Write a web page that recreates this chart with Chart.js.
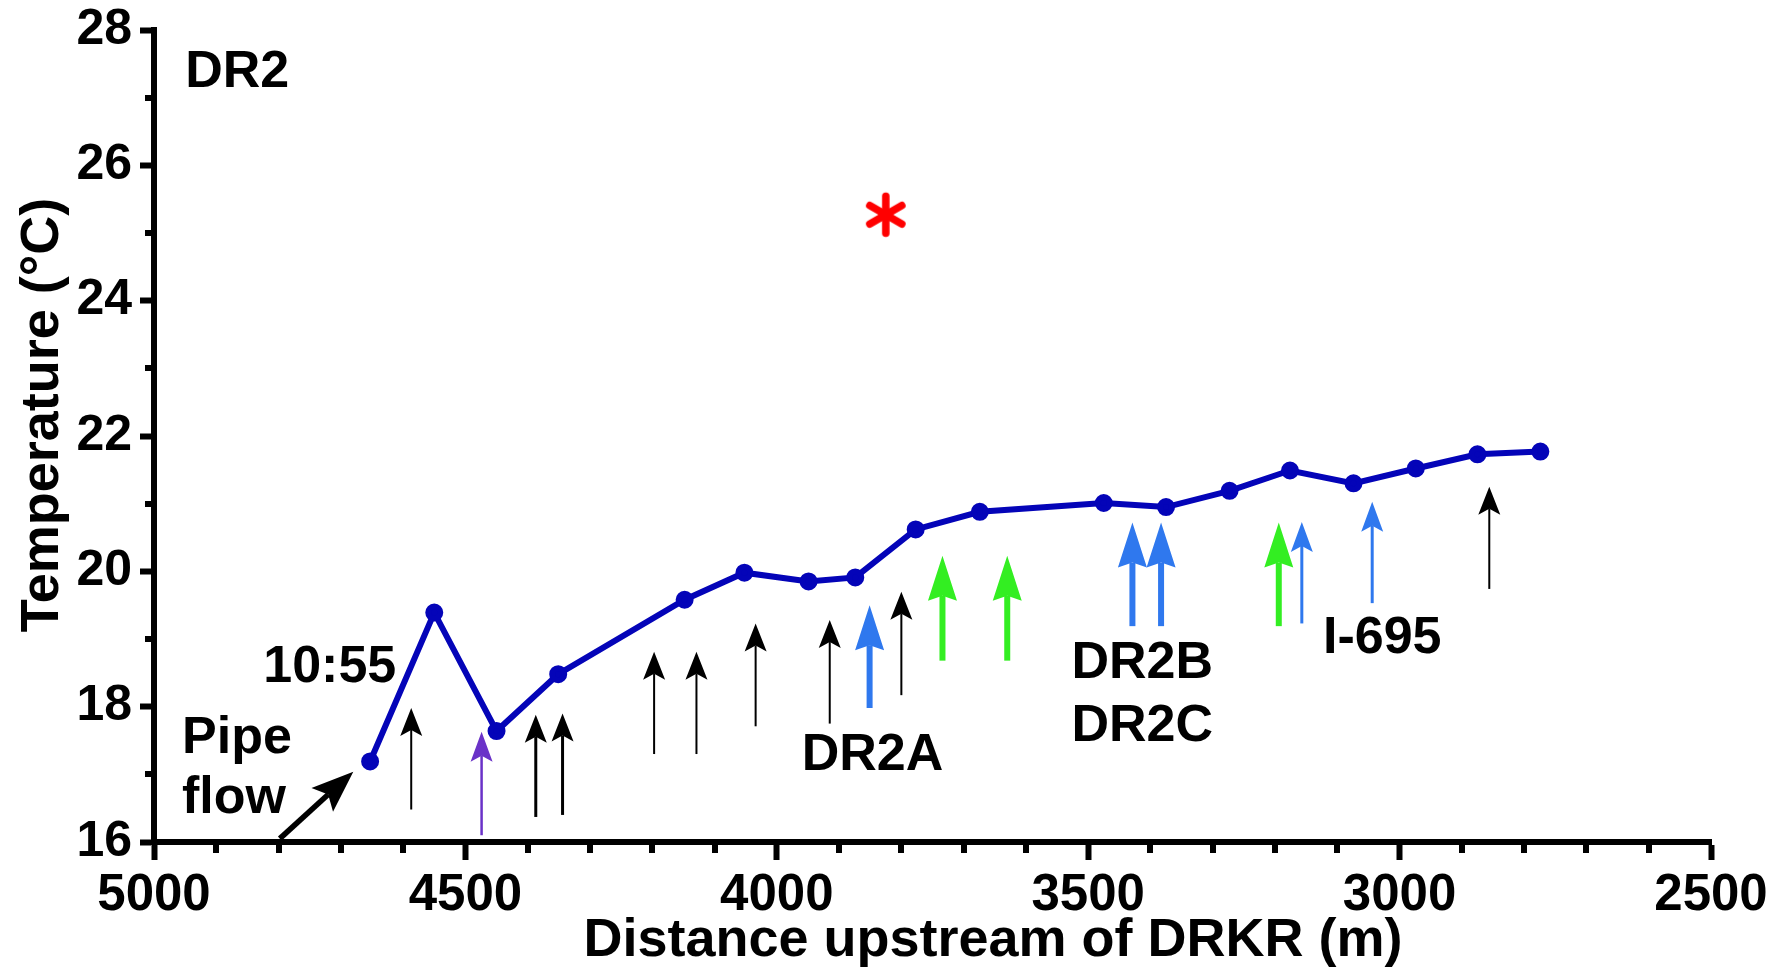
<!DOCTYPE html>
<html><head><meta charset="utf-8">
<script src="https://cdn.jsdelivr.net/npm/chart.js@4.4.1/dist/chart.umd.min.js"></script>
<style>html,body{margin:0;padding:0;background:#fff;overflow:hidden}#wrap{width:1782px;height:971px}</style>
</head><body><div id="wrap"><canvas id="c" width="1782" height="971"></canvas></div>
<script>
// ---- data ----
const distances    = [4653,4550,4450,4351,4148,4052,3949,3874,3777,3674,3475,3375,3273,3176,3074,2974,2875,2774];
const temperatures = [17.19,19.39,17.64,18.48,19.58,19.98,19.85,19.91,20.62,20.88,21.01,20.95,21.19,21.49,21.30,21.52,21.73,21.77];
const xTickLabels = [5000,4500,4000,3500,3000,2500];
const yTickLabels = [16,18,20,22,24,26,28];
const starDistance = [3825];
const starTemp = [25.27];
const arrowDistance = [4587,4474,4387,4344,4197,4129,4034,3915,3851,3800,3734,3630,3429,3383,3194,3157,3044,2856];
const arrowTipTemp  = [17.98,17.63,17.88,17.90,18.81,18.81,19.23,19.28,19.50,19.70,20.23,20.23,20.72,20.72,20.72,20.73,21.03,21.25];
const arrowTailTemp = [16.48,16.10,16.37,16.40,17.30,17.30,17.71,17.75,17.98,18.17,18.68,18.68,19.19,19.19,19.19,19.23,19.53,19.74];
const arrowKind = ['black','purple','blackMid','blackMid','black','black','black','black','blueThick','black','green','green','blueThick','blueThick','green','blueThin','blueThin','black'];
const pipeArrowDistance = [4798,4680];
const pipeArrowTemp = [16.05,17.04];
const noteTexts = ['DR2','10:55','Pipe','flow','DR2A','DR2B','DR2C','I-695'];
const noteDistance = [4950,4611,4955,4955,3960,3527,3527,3123];
const noteTemp = [27.16,18.36,17.32,16.43,17.06,18.42,17.49,18.79];
const noteAlign = ['left','right','left','left','left','left','left','left'];
const xTitle = 'Distance upstream of DRKR (m)';
const yTitle = 'Temperature (°C)';

// ---- styles ----
const FONT = "'Liberation Sans', Arial, Helvetica, sans-serif";
const arrowStyles = {
  black:    {color:'#000000', shaft:2,   headW:22, headL:28, notch:6},
  blackMid: {color:'#000000', shaft:3,   headW:22, headL:28, notch:6},
  purple:   {color:'#6A32C8', shaft:2.5, headW:22, headL:30, notch:6},
  blueThick:{color:'#2F78EE', shaft:6,   headW:29, headL:45, notch:5},
  green:    {color:'#33EE22', shaft:6,   headW:29, headL:45, notch:5},
  blueThin: {color:'#2F78EE', shaft:3,   headW:22, headL:30, notch:6},
  pipe:     {color:'#000000', shaft:5.5, headW:32, headL:42, notch:8}
};

function makeStar(){
  const c = document.createElement('canvas'); c.width = 48; c.height = 48;
  const g = c.getContext('2d');
  g.translate(24,24); g.strokeStyle = '#FF0000'; g.lineWidth = 7.5; g.lineCap = 'round';
  for (const a of [90, 30, -30]) {
    const r = a * Math.PI/180, L = 18.5;
    g.beginPath(); g.moveTo(-L*Math.cos(r), -L*Math.sin(r)); g.lineTo(L*Math.cos(r), L*Math.sin(r)); g.stroke();
  }
  return c;
}

function drawArrow(ctx, x1, y1, x2, y2, st){
  const ang = Math.atan2(y2-y1, x2-x1), len = Math.hypot(x2-x1, y2-y1);
  ctx.save(); ctx.translate(x2, y2); ctx.rotate(ang);
  ctx.fillStyle = st.color; ctx.strokeStyle = st.color; ctx.lineWidth = st.shaft; ctx.lineCap = 'butt';
  ctx.beginPath(); ctx.moveTo(-len, 0); ctx.lineTo(-(st.headL - st.notch), 0); ctx.stroke();
  ctx.beginPath(); ctx.moveTo(0, 0); ctx.lineTo(-st.headL, -st.headW/2); ctx.lineTo(-(st.headL - st.notch), 0);
  ctx.lineTo(-st.headL, st.headW/2); ctx.closePath(); ctx.fill();
  ctx.restore();
}

const extras = {
  id: 'extras',
  afterDatasetsDraw(chart){
    const {ctx, scales:{x, y}, chartArea:a} = chart;
    ctx.save();
    // minor ticks
    ctx.strokeStyle = '#000'; ctx.lineWidth = 6; ctx.lineCap = 'butt';
    for (let v = 2600; v < 5000; v += 100) {
      if (v % 500 === 0) continue;
      const px = Math.round(x.getPixelForValue(v));
      ctx.beginPath(); ctx.moveTo(px, a.bottom); ctx.lineTo(px, a.bottom + 11); ctx.stroke();
    }
    for (let v = 17; v < 28; v += 2) {
      const py = Math.round(y.getPixelForValue(v));
      ctx.beginPath(); ctx.moveTo(a.left - 9, py); ctx.lineTo(a.left, py); ctx.stroke();
    }
    // arrows
    arrowDistance.forEach((d, i) => {
      const px = x.getPixelForValue(d);
      drawArrow(ctx, px, y.getPixelForValue(arrowTailTemp[i]), px, y.getPixelForValue(arrowTipTemp[i]), arrowStyles[arrowKind[i]]);
    });
    drawArrow(ctx, x.getPixelForValue(pipeArrowDistance[0]), y.getPixelForValue(pipeArrowTemp[0]),
                   x.getPixelForValue(pipeArrowDistance[1]), y.getPixelForValue(pipeArrowTemp[1]), arrowStyles.pipe);
    // notes
    ctx.fillStyle = '#000'; ctx.font = 'bold 52px ' + FONT; ctx.textBaseline = 'alphabetic';
    noteTexts.forEach((t, i) => {
      ctx.textAlign = noteAlign[i];
      ctx.fillText(t, x.getPixelForValue(noteDistance[i]), y.getPixelForValue(noteTemp[i]));
    });
    // axis titles
    ctx.font = 'bold 54px ' + FONT; ctx.textAlign = 'center';
    ctx.fillText(xTitle, 993, 956);
    ctx.save(); ctx.translate(58, 415); ctx.rotate(-Math.PI/2);
    ctx.fillText(yTitle, 0, 0); ctx.restore();
    ctx.restore();
  }
};

new Chart(document.getElementById('c'), {
  type: 'scatter',
  data: { datasets: [
    { data: distances.map((d, i) => ({x: d, y: temperatures[i]})), showLine: true, tension: 0,
      borderColor: '#0404B8', backgroundColor: '#0404B8', borderWidth: 6, pointRadius: 6, pointHoverRadius: 6 },
    { data: starDistance.map((d, i) => ({x: d, y: starTemp[i]})), showLine: false, pointStyle: makeStar(), pointRadius: 20 }
  ]},
  options: {
    responsive: false, animation: false, devicePixelRatio: 1,
    layout: { padding: { top: 30, right: 71, left: 0, bottom: 0 } },
    plugins: { legend: { display: false }, tooltip: { enabled: false } },
    scales: {
      x: { type: 'linear', reverse: true, min: 2500, max: 5000,
        afterBuildTicks: s => { s.ticks = xTickLabels.map(v => ({value: v})); },
        afterFit: s => { s.height = 129; },
        border: { display: true, width: 6, color: '#000' },
        grid: { drawOnChartArea: false, drawTicks: true, tickLength: 18, tickWidth: 6, tickColor: '#000' },
        ticks: { color: '#000', font: { family: FONT, size: 51, weight: 'bold' }, padding: 5, maxRotation: 0, autoSkip: false,
                 callback: v => String(v) }
      },
      y: { type: 'linear', min: 16, max: 28,
        afterBuildTicks: s => { s.ticks = yTickLabels.map(v => ({value: v})); },
        afterFit: s => { s.width = 154; },
        border: { display: true, width: 6, color: '#000' },
        grid: { drawOnChartArea: false, drawTicks: true, tickLength: 14, tickWidth: 6, tickColor: '#000' },
        ticks: { color: '#000', font: { family: FONT, size: 50, weight: 'bold', lineHeight: 0.8 }, padding: 8, autoSkip: false,
                 callback: v => String(v) }
      }
    }
  },
  plugins: [extras]
});
</script></body></html>
